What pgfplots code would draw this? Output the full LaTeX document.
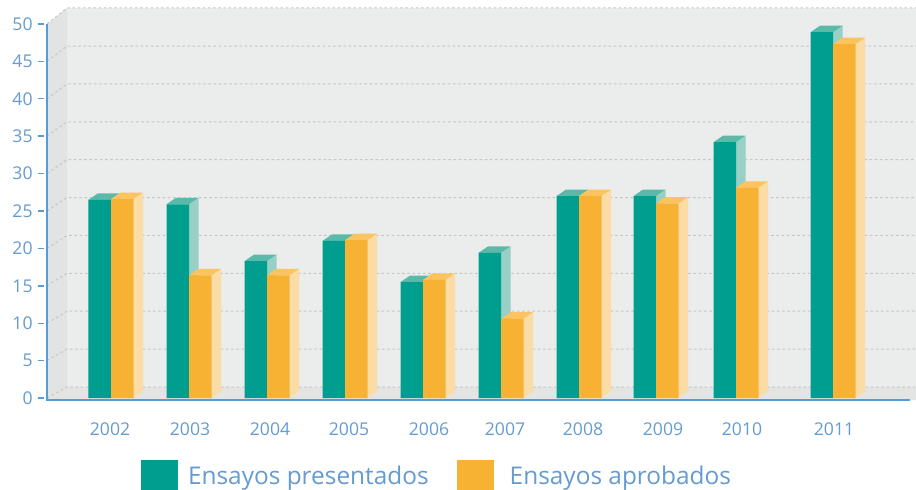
\documentclass[border=0pt]{standalone}
\usepackage{fontspec}
\setmainfont{Open Sans}
\usepackage{pgfplots}
\usepackage{pgfplotstable}
\pgfplotsset{compat=1.18}
\definecolor{tealc}{RGB}{0,158,142}
\definecolor{tealtop}{RGB}{91,185,170}
\definecolor{tealside}{RGB}{152,208,197}
\definecolor{orangec}{RGB}{247,178,52}
\definecolor{orangetop}{RGB}{251,196,96}
\definecolor{orangeside}{RGB}{251,220,164}
\definecolor{wallc}{RGB}{235,236,236}
\definecolor{sidewallc}{RGB}{226,227,227}
\definecolor{floorc}{RGB}{227,228,228}
\definecolor{gridc}{RGB}{198,198,198}
\definecolor{axisblue}{RGB}{91,155,213}
\definecolor{labelblue}{RGB}{100,155,208}

\pgfplotstableread{
x pres aprob
111 26.5 26.6
189 25.9 16.4
267 18.3 16.4
345 21.0 21.1
423 15.5 15.8
501 19.4 10.6
579 27.0 27.0
656 27.0 26.0
736 34.2 28.1
833 48.9 47.3
}\datatable

\begin{document}
\begin{tikzpicture}
\begin{axis}[
  at={(0,0)}, anchor=south west,
  scale only axis, width=434.5pt, height=200pt,
  xmin=47, xmax=916, ymin=-0.2674, ymax=53.2086,
  clip=false,
  axis line style={draw=none},
  xtick={110,190,270,349,429,505,583,663,742,834},
  xticklabels={2002,2003,2004,2005,2006,2007,2008,2009,2010,2011},
  ytick={0,5,...,50},
  xtick pos=bottom, ytick pos=left,
  tick align=outside, major tick length=3pt,
  xtick style={draw=none},
  ytick style={draw=axisblue, line width=0.7pt, xshift=-1.5pt},
  ticklabel style={font=\fontsize{8.8}{10}\selectfont, text=labelblue},
  yticklabel style={inner xsep=0pt, xshift=-4pt},
  xticklabel style={inner ysep=0pt, yshift=-8.3pt},
  /pgf/number format/assume math mode=true,
  legend style={at={(0.1082,-0.15)}, anchor=north west, draw=none, fill=none,
    inner sep=0pt, outer sep=0pt, legend columns=2,
    font=\fontsize{12.2}{14}\selectfont, text=labelblue,
    /tikz/every odd column/.append style={column sep=3pt},
    /tikz/every even column/.append style={column sep=12pt}},
  legend image code/.code={\fill[#1] (0pt,-9.25pt) rectangle (18.5pt,9.25pt);},
]
% background box
\addplot[fill=sidewallc, draw=none, forget plot] coordinates {(47,-0.2674) (67,1.47) (67,52.14) (47,50)} --cycle;
\addplot[fill=floorc, draw=none, forget plot] coordinates {(47,-0.2674) (67,1.47) (916,1.47) (916,-0.2674)} --cycle;
\addplot[fill=wallc, draw=none, forget plot] coordinates {(67,1.47) (916,1.47) (916,52.14) (67,52.14)} --cycle;
\addplot[gridc, line width=0.5pt, dash pattern=on 1.3pt off 1.3pt, forget plot] coordinates {(47,50) (67,52.14) (916,52.14)};
\pgfplotsinvokeforeach{0,5,...,45}{
  \pgfmathsetmacro\bk{1.47+#1*1.0129}
  \addplot[gridc, line width=0.5pt, dash pattern=on 1.3pt off 1.3pt, forget plot] coordinates {(47,#1) (67,\bk) (916,\bk)};
}
% teal faces
\pgfplotsinvokeforeach{0,...,9}{
  \pgfplotstablegetelem{#1}{x}\of\datatable \let\xb\pgfplotsretval
  \pgfplotstablegetelem{#1}{pres}\of\datatable \let\vp\pgfplotsretval
  \pgfmathsetmacro\xl{\xb-22.5}
  \pgfmathsetmacro\xld{\xb-13}
  \pgfmathsetmacro\xbd{\xb+9.5}
  \pgfmathsetmacro\vpd{\vp+0.87}
  \addplot[fill=tealside, draw=none, forget plot] coordinates {(\xb,0) (\xbd,0.87) (\xbd,\vpd) (\xb,\vp)} --cycle;
  \addplot[fill=tealtop, draw=none, forget plot] coordinates {(\xl,\vp) (\xb,\vp) (\xbd,\vpd) (\xld,\vpd)} --cycle;
}
\addplot[ybar, bar width=22.5, bar shift=0pt, fill=tealc, draw=none] table[x expr=\thisrow{x}-11.25, y=pres]{\datatable};
\addlegendentry{\raisebox{1.8pt}{Ensayos presentados}}
% orange faces
\pgfplotsinvokeforeach{0,...,9}{
  \pgfplotstablegetelem{#1}{x}\of\datatable \let\xb\pgfplotsretval
  \pgfplotstablegetelem{#1}{aprob}\of\datatable \let\va\pgfplotsretval
  \pgfmathsetmacro\xr{\xb+22.5}
  \pgfmathsetmacro\xrd{\xb+32}
  \pgfmathsetmacro\xbd{\xb+9.5}
  \pgfmathsetmacro\vad{\va+0.87}
  \addplot[fill=orangeside, draw=none, forget plot] coordinates {(\xr,0) (\xrd,0.87) (\xrd,\vad) (\xr,\va)} --cycle;
  \addplot[fill=orangetop, draw=none, forget plot] coordinates {(\xb,\va) (\xr,\va) (\xrd,\vad) (\xbd,\vad)} --cycle;
}
\addplot[ybar, bar width=22.5, bar shift=0pt, fill=orangec, draw=none] table[x expr=\thisrow{x}+11.25, y=aprob]{\datatable};
\addlegendentry{\hspace{3pt}\raisebox{1.8pt}{Ensayos aprobados}}
% axis lines
\addplot[axisblue, line width=0.75pt, forget plot] coordinates {(47,50) (47,-0.2674) (910,-0.2674)};
\end{axis}
\pgfresetboundingbox
\path (-23.5pt,-44.5pt) rectangle (434.5pt,200pt);
\end{tikzpicture}
\end{document}
